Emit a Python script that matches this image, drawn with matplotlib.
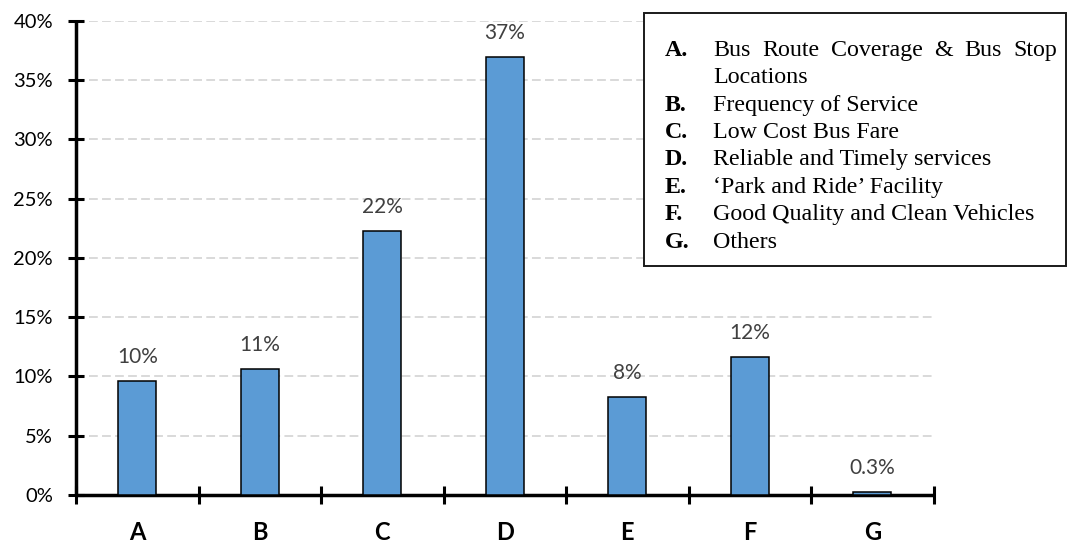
import matplotlib
matplotlib.use("Agg")
import matplotlib.pyplot as plt
from matplotlib.patches import Rectangle
from matplotlib.ticker import FixedLocator, NullFormatter

# Share of respondents per preferred bus service improvement
categories = ["A", "B", "C", "D", "E", "F", "G"]
shares = [9.64, 10.62, 22.3, 36.96, 8.29, 11.66, 0.28]
share_labels = ["10%", "11%", "22%", "37%", "8%", "12%", "0.3%"]
key_letters = ["A.", "B.", "C.", "D.", "E.", "F.", "G."]
key_texts = [
    ["Bus Route Coverage & Bus Stop", "Locations"],
    ["Frequency of Service"],
    ["Low Cost Bus Fare"],
    ["Reliable and Timely services"],
    ["\u2018Park and Ride\u2019 Facility"],
    ["Good Quality and Clean Vehicles"],
    ["Others"],
]

W, H = 1067, 545
fig = plt.figure(figsize=(W / 100, H / 100), dpi=100)
ax = fig.add_axes([76 / W, 1 - 495 / H, (933.5 - 76) / W, (495 - 20.7) / H])

x = list(range(len(categories)))
ax.bar(x, shares, width=0.313, color="#5B9BD5", edgecolor="black", linewidth=1.1, zorder=3)

for xi, val, lab in zip(x, shares, share_labels):
    ax.annotate(lab, (xi, val), xytext=(0, 13), textcoords="offset points",
                ha="center", va="baseline", fontsize=15, color="#404040",
                family="Lato")

ax.set_xlim(-0.5, len(categories) - 0.5)
ax.set_ylim(0, 40)

# major ticks sit between the categories, minor ticks carry the letters
ax.xaxis.set_major_locator(FixedLocator([i - 0.5 for i in range(len(categories) + 1)]))
ax.xaxis.set_major_formatter(NullFormatter())
ax.xaxis.set_minor_locator(FixedLocator(x))
ax.set_xticklabels(categories, minor=True, fontsize=17, fontweight="bold", family="Lato")
ax.tick_params(axis="x", which="major", direction="inout", length=13, width=2.2)
ax.tick_params(axis="x", which="minor", length=0, pad=18.5)

yticks = list(range(0, 45, 5))
ax.set_yticks(yticks)
ax.set_yticklabels([f"{t}%" for t in yticks], fontsize=14.5, family="Lato")
ax.tick_params(axis="y", direction="inout", length=11, width=2.2, pad=11)

ax.yaxis.grid(True, color="#D9D9D9", linestyle=(0, (4.5, 2.2)), linewidth=1.4, zorder=0)
ax.set_axisbelow(True)

for side in ["top", "right"]:
    ax.spines[side].set_visible(False)
for side in ["left", "bottom"]:
    ax.spines[side].set_linewidth(2.5)
    ax.spines[side].set_capstyle("butt")

# key box on the upper right
fig.patches.append(Rectangle((644 / W, 1 - 266 / H), (1066 - 644) / W, (266 - 13) / H,
                             transform=fig.transFigure, fill=True, facecolor="white",
                             edgecolor="#1a1a1a", linewidth=1.4, zorder=5))

renderer = fig.canvas.get_renderer()
serif = "Liberation Serif"
key_size = 17.3


def justified(words, y, x0, x1):
    items = [fig.text(0, y, w, fontsize=key_size, family=serif, va="baseline", zorder=6) for w in words]
    widths = [t.get_window_extent(renderer).width for t in items]
    gap = (x1 - x0 - sum(widths)) / (len(words) - 1)
    pos = x0
    for t, w in zip(items, widths):
        t.set_x(pos / W)
        pos += w + gap


baseline = 55.8
step = 27.4
for letter, lines in zip(key_letters, key_texts):
    fig.text(665 / W, 1 - baseline / H, letter, fontsize=key_size, family=serif,
             fontweight="bold", va="baseline", zorder=6)
    for j, line in enumerate(lines):
        yy = 1 - baseline / H
        if j == 0 and len(lines) > 1:
            justified(line.split(" "), yy, 713.3, 1057)
        else:
            fig.text(713.3 / W, yy, line, fontsize=key_size, family=serif, va="baseline", zorder=6)
        baseline += step

fig.savefig("out.png", dpi=100)
